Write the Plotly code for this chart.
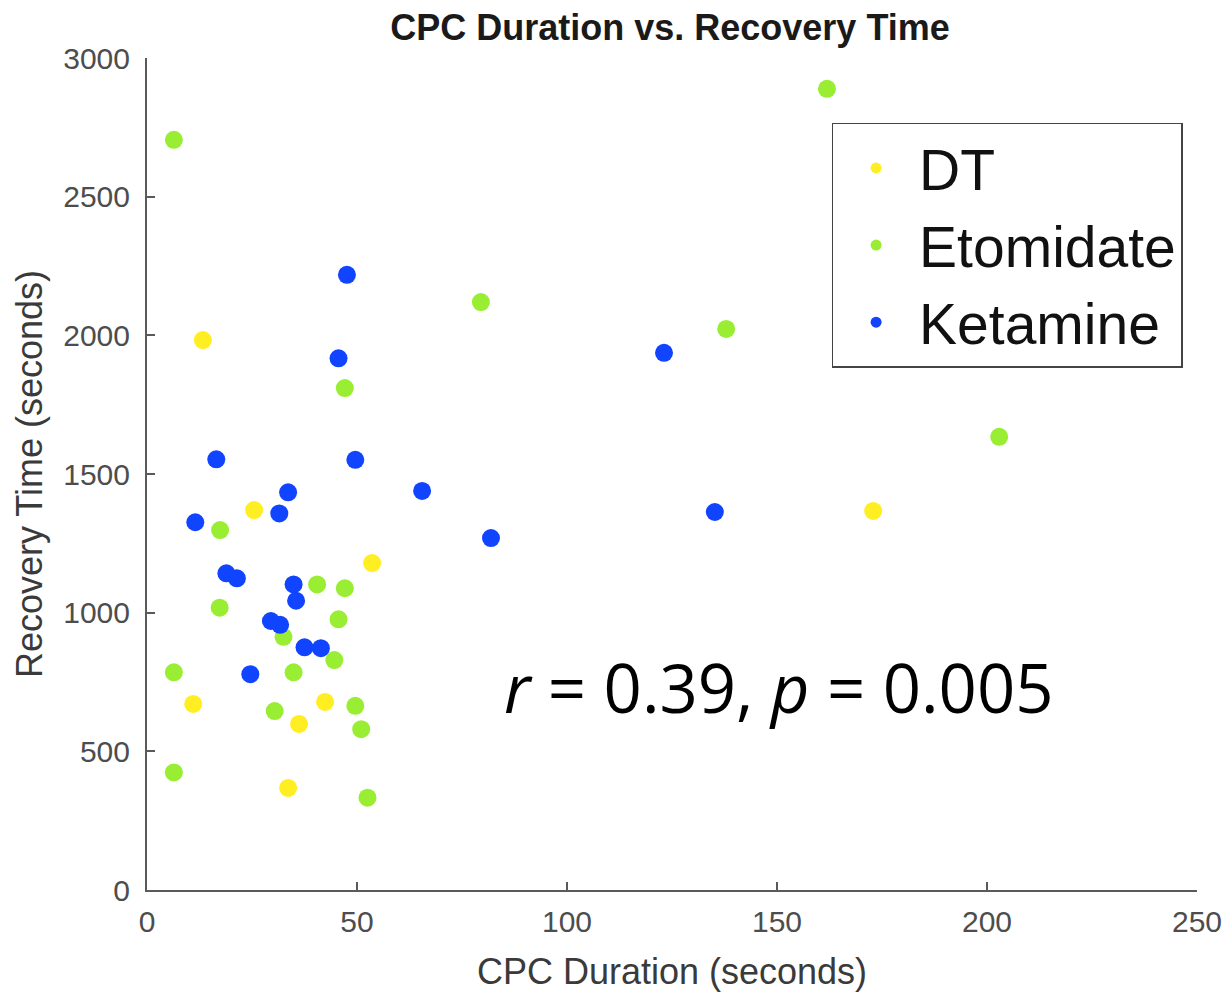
import plotly.graph_objects as go

# Data
dt_x = [13.3, 25.5, 53.6, 11.0, 42.4, 36.2, 33.6, 172.9]
dt_y = [1983, 1370, 1179, 671, 678, 599, 368, 1367]

eto_x = [6.4, 161.9, 79.5, 137.9, 202.9, 47.1, 17.4, 17.3, 40.5, 47.1, 45.6, 32.5,
         44.6, 6.4, 34.9, 30.4, 49.6, 51.0, 6.4, 52.5]
eto_y = [2705, 2889, 2120, 2023, 1634, 1810, 1298, 1018, 1102, 1088, 976, 913,
         829, 785, 785, 645, 664, 580, 424, 333]

ket_x = [47.6, 45.6, 16.5, 49.6, 33.6, 31.5, 11.5, 123.1, 65.5, 81.9, 135.2,
         18.9, 21.4, 34.9, 35.5, 29.5, 31.7, 37.5, 41.4, 24.6]
ket_y = [2218, 1917, 1553, 1551, 1434, 1358, 1326, 1937, 1439, 1269, 1363,
         1142, 1124, 1102, 1043, 970, 956, 875, 872, 778]

groups = ["DT", "Etomidate", "Ketamine"]
colors = ["#FFEE22", "#99EE33", "#1144FF"]
xs = [dt_x, eto_x, ket_x]
ys = [dt_y, eto_y, ket_y]

x_ticks = [0, 50, 100, 150, 200, 250]
y_ticks = [0, 500, 1000, 1500, 2000, 2500, 3000]

fig = go.Figure()
for name, c, x, y in zip(groups, colors, xs, ys):
    fig.add_trace(go.Scatter(x=x, y=y, mode="markers", name=name, showlegend=False,
                             marker=dict(color=c, size=18, line=dict(width=0)),
                             cliponaxis=False))
# legend-only entries with small dots
for name, c in zip(groups, colors):
    fig.add_trace(go.Scatter(x=[None], y=[None], mode="markers", name=name,
                             marker=dict(color=c, size=11, line=dict(width=0))))

axis_common = dict(showgrid=False, zeroline=False, showline=True, linecolor="#5a5a5a",
                   linewidth=2, ticks="inside", ticklen=8, tickwidth=2, tickcolor="#5a5a5a",
                   tickfont=dict(family="Liberation Sans", size=30, color="#4d4d4d"),
                   mirror=False, automargin=False)

fig.update_xaxes(range=[0, 250], tickvals=x_ticks, **axis_common, ticklabelstandoff=4,
                 title=dict(text="CPC Duration (seconds)", standoff=22,
                            font=dict(family="Liberation Sans", size=36, color="#3a3a3a")))
fig.update_yaxes(range=[0, 3000], tickvals=y_ticks, **axis_common, ticklabelstandoff=9,
                 title=dict(text="Recovery Time (seconds)", standoff=10,
                            font=dict(family="Liberation Sans", size=36, color="#3a3a3a")))

fig.add_annotation(text="<i>r</i> = 0.39, <i>p</i> = 0.005", xref="paper", yref="paper",
                   x=0.602, y=0.244, xanchor="center", yanchor="middle", showarrow=False,
                   font=dict(family="Open Sans", size=67, color="#000000"))

fig.update_layout(
    width=1226, height=995,
    margin=dict(l=147, r=29, t=58, b=105),
    paper_bgcolor="white", plot_bgcolor="white",
    title=dict(text="<b>CPC Duration vs. Recovery Time</b>", x=0.5465, xanchor="center",
               y=0.972, yanchor="middle", automargin=False,
               font=dict(family="Liberation Sans", size=36, color="#1a1a1a")),
    legend=dict(x=0.652, y=0.922, xanchor="left", yanchor="top",
                bgcolor="white", bordercolor="#444444", borderwidth=1.5,
                itemwidth=76,
                font=dict(family="Liberation Sans", size=57, color="#111111")),
)

fig.write_html("out.html", config={"displayModeBar": False},
               post_script="document.body.style.margin='0';document.body.style.overflow='hidden';")
